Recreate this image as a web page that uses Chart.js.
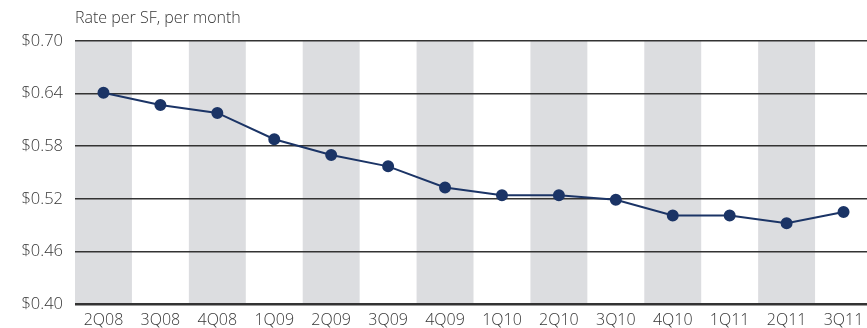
<!DOCTYPE html>
<html>
<head>
<meta charset="utf-8">
<script src="https://cdn.jsdelivr.net/npm/chart.js@4.4.1/dist/chart.umd.min.js"></script>
<style>
  html, body { margin: 0; padding: 0; background: #fff; overflow: hidden; }
</style>
</head>
<body>
<canvas id="rateChart" width="879" height="328"></canvas>
<script>
// quarters on the x axis
const quarters = ['2Q08', '3Q08', '4Q08', '1Q09', '2Q09', '3Q09', '4Q09', '1Q10', '2Q10', '3Q10', '4Q10', '1Q11', '2Q11', '3Q11'];
// asking rate, $ per SF per month
const rates = [0.641, 0.627, 0.618, 0.588, 0.570, 0.557, 0.533, 0.524, 0.524, 0.519, 0.501, 0.501, 0.492, 0.505];
// y axis ticks
const yTicks = [0.40, 0.46, 0.52, 0.58, 0.64, 0.70];
const axisTitle = 'Rate per SF, per month';

const FONT = '"Open Sans", "Noto Sans", sans-serif';
const TEXT = '#363636';

// grey column behind every other quarter
const bandPlugin = {
    id: 'bands',
    beforeDraw(chart) {
        const { ctx, chartArea, scales } = chart;
        const x = scales.x;
        const w = x.width / quarters.length;
        ctx.save();
        ctx.fillStyle = '#dcdde0';
        quarters.forEach((q, i) => {
            if (i % 2 !== 0) return;
            const c = x.getPixelForValue(i);
            ctx.fillRect(c - w / 2, chartArea.top, w, chartArea.bottom - chartArea.top);
        });
        ctx.restore();
    },
    afterDraw(chart) {
        const { ctx, chartArea } = chart;
        ctx.save();
        ctx.font = '300 16px ' + FONT;
        ctx.fillStyle = TEXT;
        ctx.textBaseline = 'middle';
        ctx.fillText(axisTitle, chartArea.left, 18);
        ctx.restore();
    }
};

const ctx = document.getElementById('rateChart').getContext('2d');
new Chart(ctx, {
    type: 'line',
    data: {
        labels: quarters,
        datasets: [{
            data: rates,
            borderColor: '#1b3466',
            backgroundColor: '#1b3466',
            borderWidth: 2,
            pointRadius: 5,
            pointHoverRadius: 5,
            tension: 0,
            fill: false
        }]
    },
    options: {
        responsive: false,
        animation: false,
        layout: { padding: { top: 41, left: 0, right: 0, bottom: 0 } },
        plugins: {
            legend: { display: false },
            tooltip: { enabled: false }
        },
        scales: {
            x: {
                offset: true,
                grid: { display: false, drawTicks: false },
                border: { display: false },
                ticks: {
                    color: TEXT,
                    font: { family: FONT, size: 16, weight: '300' },
                    padding: 7,
                    maxRotation: 0,
                    autoSkip: false
                },
                afterFit(scale) { scale.height = 24; }
            },
            y: {
                min: 0.40,
                max: 0.70,
                afterBuildTicks(scale) {
                    scale.ticks = yTicks.map(v => ({ value: v }));
                },
                grid: {
                    color: '#333333',
                    lineWidth: c => (c.tick && c.tick.value === 0.40 ? 2.5 : 1.5),
                    drawTicks: false
                },
                border: { display: false },
                ticks: {
                    color: TEXT,
                    font: { family: FONT, size: 16.5, weight: '300' },
                    padding: 12,
                    callback: v => '$' + Number(v).toFixed(2)
                },
                afterFit(scale) { scale.width = 75; }
            }
        }
    },
    plugins: [bandPlugin]
});
</script>
</body>
</html>
